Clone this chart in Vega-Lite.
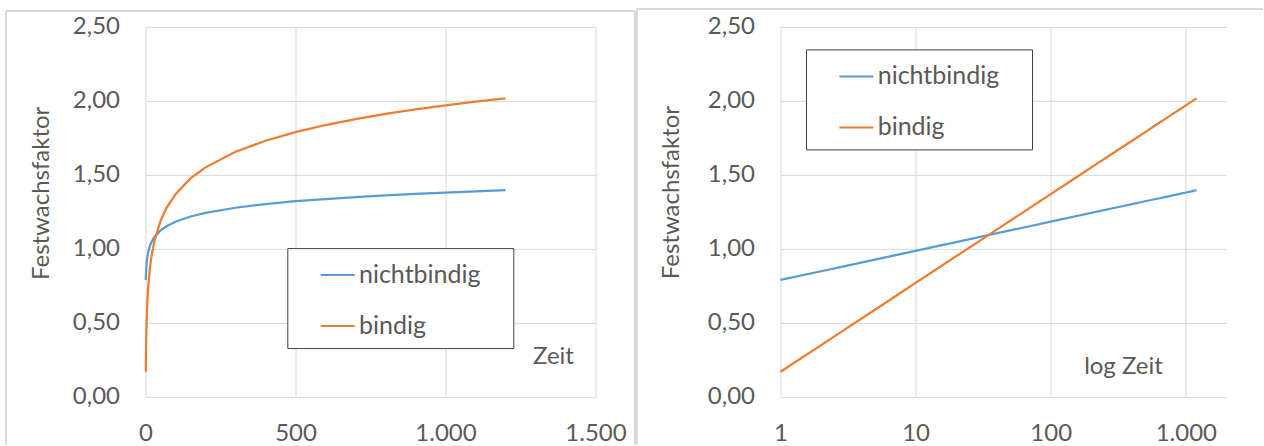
{
  "$schema": "https://vega.github.io/schema/vega-lite/v6.json",
  "autosize": {"type": "pad"},
  "padding": {"left": 5.5, "top": 7.9, "right": 0, "bottom": 0},
  "background": "white",
  "bounds": "flush",
  "spacing": 185,
  "config": {
    "view": {"stroke": null},
    "font": "Lato",
    "axis": {
      "labelFont": "Lato", "labelFontSize": 24, "labelColor": "#595959",
      "titleFont": "Lato", "titleFontSize": 24, "titleFontWeight": "normal", "titleColor": "#595959",
      "gridColor": "#d9d9d9", "gridWidth": 1, "domain": false, "ticks": false, "tickSize": 0,
      "labelFlush": false, "labelOverlap": false
    },
    "legend": {
      "symbolType": "stroke", "symbolSize": 1156, "symbolStrokeWidth": 2,
      "symbolOffset": 23.4, "labelOffset": 3.3,
      "labelFont": "Lato", "labelFontSize": 25, "labelColor": "#595959",
      "padding": 9, "rowPadding": 20,
      "titleOrient": "right", "titleFontSize": 1, "titlePadding": 23.5,
      "strokeColor": "#404040", "fillColor": "white"
    }
  },
  "datasets": {
    "d": [
      {"t": 1, "s": "nichtbindig", "f": 0.79}, {"t": 1, "s": "bindig", "f": 0.17},
      {"t": 2, "s": "nichtbindig", "f": 0.849}, {"t": 2, "s": "bindig", "f": 0.35},
      {"t": 3, "s": "nichtbindig", "f": 0.884}, {"t": 3, "s": "bindig", "f": 0.456},
      {"t": 5, "s": "nichtbindig", "f": 0.928}, {"t": 5, "s": "bindig", "f": 0.589},
      {"t": 7, "s": "nichtbindig", "f": 0.956}, {"t": 7, "s": "bindig", "f": 0.677},
      {"t": 10, "s": "nichtbindig", "f": 0.987}, {"t": 10, "s": "bindig", "f": 0.77},
      {"t": 15, "s": "nichtbindig", "f": 1.022}, {"t": 15, "s": "bindig", "f": 0.876},
      {"t": 20, "s": "nichtbindig", "f": 1.046}, {"t": 20, "s": "bindig", "f": 0.951},
      {"t": 30, "s": "nichtbindig", "f": 1.081}, {"t": 30, "s": "bindig", "f": 1.056},
      {"t": 50, "s": "nichtbindig", "f": 1.125}, {"t": 50, "s": "bindig", "f": 1.189},
      {"t": 70, "s": "nichtbindig", "f": 1.153}, {"t": 70, "s": "bindig", "f": 1.277},
      {"t": 100, "s": "nichtbindig", "f": 1.184}, {"t": 100, "s": "bindig", "f": 1.37},
      {"t": 150, "s": "nichtbindig", "f": 1.219}, {"t": 150, "s": "bindig", "f": 1.476},
      {"t": 200, "s": "nichtbindig", "f": 1.243}, {"t": 200, "s": "bindig", "f": 1.551},
      {"t": 300, "s": "nichtbindig", "f": 1.278}, {"t": 300, "s": "bindig", "f": 1.656},
      {"t": 400, "s": "nichtbindig", "f": 1.303}, {"t": 400, "s": "bindig", "f": 1.731},
      {"t": 500, "s": "nichtbindig", "f": 1.322}, {"t": 500, "s": "bindig", "f": 1.789},
      {"t": 600, "s": "nichtbindig", "f": 1.337}, {"t": 600, "s": "bindig", "f": 1.837},
      {"t": 700, "s": "nichtbindig", "f": 1.35}, {"t": 700, "s": "bindig", "f": 1.877},
      {"t": 800, "s": "nichtbindig", "f": 1.362}, {"t": 800, "s": "bindig", "f": 1.912},
      {"t": 900, "s": "nichtbindig", "f": 1.372}, {"t": 900, "s": "bindig", "f": 1.942},
      {"t": 1000, "s": "nichtbindig", "f": 1.381}, {"t": 1000, "s": "bindig", "f": 1.97},
      {"t": 1100, "s": "nichtbindig", "f": 1.389}, {"t": 1100, "s": "bindig", "f": 1.995},
      {"t": 1200, "s": "nichtbindig", "f": 1.397}, {"t": 1200, "s": "bindig", "f": 2.017}
    ]
  },
  "resolve": {
    "scale": {"x": "independent", "y": "independent", "color": "independent"},
    "axis": {"x": "independent", "y": "independent"},
    "legend": {"color": "independent"}
  },
  "hconcat": [
    {
      "width": 450, "height": 370,
      "data": {"name": "d"},
      "layer": [
        {
          "transform": [{"filter": "datum.s == 'nichtbindig'"}],
          "mark": {"type": "line", "strokeWidth": 2.25, "clip": false},
          "encoding": {
            "x": {"field": "t", "type": "quantitative",
              "scale": {"domain": [0, 1500], "nice": false, "zero": false},
              "axis": {"values": [0, 500, 1000, 1500], "labelExpr": "replace(format(datum.value, ','), ',', '.')",
                "labelPadding": 25, "grid": true,
                "title": "Zeit", "titleX": 407.5, "titleY": -33.8, "titleBaseline": "alphabetic", "titleAlign": "center"}},
            "y": {"field": "f", "type": "quantitative",
              "scale": {"domain": [0, 2.5], "nice": false},
              "axis": {"values": [0, 0.5, 1, 1.5, 2, 2.5], "labelExpr": "replace(format(datum.value, '.2f'), '.', ',')",
                "labelPadding": 26, "grid": true,
                "title": "Festwachsfaktor", "titleAngle": -90, "titleX": -97.5, "titleY": 166, "titleBaseline": "alphabetic", "titleAlign": "center"}},
            "color": {"field": "s", "type": "nominal",
              "scale": {"domain": ["nichtbindig", "bindig"], "range": ["#5B9BD5", "#ED7D31"]},
              "legend": {"orient": "none", "legendX": 141.8, "legendY": 221.2, "title": "\u00a0"}}
          }
        },
        {
          "transform": [{"filter": "datum.s == 'bindig'"}],
          "mark": {"type": "line", "strokeWidth": 2.25, "clip": false},
          "encoding": {
            "x": {"field": "t", "type": "quantitative"},
            "y": {"field": "f", "type": "quantitative"},
            "color": {"field": "s", "type": "nominal"}
          }
        },
        {
          "mark": {"type": "rule", "color": "#d9d9d9", "strokeWidth": 1, "clip": false},
          "encoding": {"x": {"datum": -465}, "y": {"datum": 2.605}, "y2": {"datum": -0.32}}
        },
        {
          "mark": {"type": "rule", "color": "#d9d9d9", "strokeWidth": 1, "clip": false},
          "encoding": {"x": {"datum": 1632}, "y": {"datum": 2.605}, "y2": {"datum": -0.32}}
        },
        {
          "mark": {"type": "rule", "color": "#d9d9d9", "strokeWidth": 1, "clip": false},
          "encoding": {"x": {"datum": -465}, "x2": {"datum": 1632}, "y": {"datum": 2.605}}
        }
      ]
    },
    {
      "width": 446, "height": 370,
      "data": {"name": "d"},
      "layer": [
        {
          "transform": [{"filter": "datum.s == 'nichtbindig'"}],
          "mark": {"type": "line", "strokeWidth": 2.25, "clip": false},
          "encoding": {
            "x": {"field": "t", "type": "quantitative",
              "scale": {"type": "log", "domain": [1, 2000], "nice": false},
              "axis": {"values": [1, 10, 100, 1000], "labelExpr": "replace(format(datum.value, ','), ',', '.')",
                "labelPadding": 25, "grid": true,
                "title": "log Zeit", "titleX": 342.5, "titleY": -23.8, "titleBaseline": "alphabetic", "titleAlign": "center"}},
            "y": {"field": "f", "type": "quantitative",
              "scale": {"domain": [0, 2.5], "nice": false},
              "axis": {"values": [0, 0.5, 1, 1.5, 2, 2.5], "labelExpr": "replace(format(datum.value, '.2f'), '.', ',')",
                "labelPadding": 26, "grid": true,
                "title": "Festwachsfaktor", "titleAngle": -90, "titleX": -101.5, "titleY": 165.2, "titleBaseline": "alphabetic", "titleAlign": "center"}},
            "color": {"field": "s", "type": "nominal",
              "scale": {"domain": ["nichtbindig", "bindig"], "range": ["#5B9BD5", "#ED7D31"]},
              "legend": {"orient": "none", "legendX": 25.5, "legendY": 22.5, "title": "\u00a0"}}
          }
        },
        {
          "transform": [{"filter": "datum.s == 'bindig'"}],
          "mark": {"type": "line", "strokeWidth": 2.25, "clip": false},
          "encoding": {
            "x": {"field": "t", "type": "quantitative"},
            "y": {"field": "f", "type": "quantitative"},
            "color": {"field": "s", "type": "nominal"}
          }
        },
        {
          "mark": {"type": "rule", "color": "#d9d9d9", "strokeWidth": 1, "clip": false},
          "encoding": {"x": {"datum": 0.086}, "y": {"datum": 2.622}, "y2": {"datum": -0.32}}
        },
        {
          "mark": {"type": "rule", "color": "#d9d9d9", "strokeWidth": 1, "clip": false},
          "encoding": {"x": {"datum": 0.086}, "x2": {"datum": 3700}, "y": {"datum": 2.622}}
        }
      ]
    }
  ]
}
